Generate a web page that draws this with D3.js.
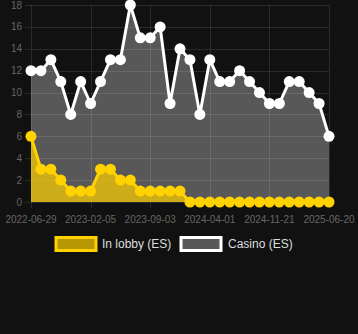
<!DOCTYPE html>
<html>
<head>
<meta charset="utf-8">
<script src="https://cdn.jsdelivr.net/npm/d3@7"></script>
<style>
  html, body { margin: 0; padding: 0; background: #111111; }
  svg { display: block; font-family: "Liberation Sans", Arial, sans-serif; }
</style>
</head>
<body>
<script>
// values, one point per sample
var casino = [12, 12, 13, 11, 8, 11, 9, 11, 13, 13, 18, 15, 15, 16, 9, 14, 13, 8, 13, 11, 11, 12, 11, 10, 9, 9, 11, 11, 10, 9, 6];
var lobby = [6, 3, 3, 2, 1, 1, 1, 3, 3, 2, 2, 1, 1, 1, 1, 1, 0, 0, 0, 0, 0, 0, 0, 0, 0, 0, 0, 0, 0, 0, 0];
var tickLabels = ["2022-06-29", "2023-02-05", "2023-09-03", "2024-04-01", "2024-11-21", "2025-06-20"];
var tickIndex = [0, 6, 12, 18, 24, 30];
var yTicks = [0, 2, 4, 6, 8, 10, 12, 14, 16, 18];
var legendNames = ["In lobby (ES)", "Casino (ES)"];

var W = 358, H = 334;
var plotLeft = 31, plotRight = 329, plotTop = 5, plotBottom = 202;

var svg = d3.select("body").append("svg")
    .attr("width", W)
    .attr("height", H);

var x = d3.scaleLinear().domain([0, casino.length - 1]).range([plotLeft, plotRight]);
var y = d3.scaleLinear().domain([0, 18]).range([plotBottom, plotTop]);

var grid = "rgba(255,255,255,0.1)";

// horizontal grid + y labels
svg.append("g").selectAll("line")
    .data(yTicks)
    .enter().append("line")
    .attr("x1", plotLeft - 6).attr("x2", plotRight)
    .attr("y1", function(d) { return Math.round(y(d)) + 0.5; })
    .attr("y2", function(d) { return Math.round(y(d)) + 0.5; })
    .style("stroke", grid);

svg.append("g").selectAll("text")
    .data(yTicks)
    .enter().append("text")
    .attr("x", 22)
    .attr("y", function(d) { return y(d); })
    .attr("dy", "0.35em")
    .attr("text-anchor", "end")
    .style("font-size", "10px")
    .style("fill", "#666")
    .text(function(d) { return d; });

// vertical grid + x labels
svg.append("g").selectAll("line")
    .data(tickIndex)
    .enter().append("line")
    .attr("x1", function(d) { return Math.round(x(d)) + 0.5; })
    .attr("x2", function(d) { return Math.round(x(d)) + 0.5; })
    .attr("y1", plotTop).attr("y2", plotBottom + 6)
    .style("stroke", grid);

svg.append("g").selectAll("text")
    .data(tickIndex)
    .enter().append("text")
    .attr("x", function(d) { return x(d); })
    .attr("y", 223)
    .attr("text-anchor", "middle")
    .style("font-size", "10px")
    .style("fill", "#666")
    .text(function(d, i) { return tickLabels[i]; });

var area = d3.area()
    .x(function(d, i) { return x(i); })
    .y0(y(0))
    .y1(function(d) { return y(d); });

var line = d3.line()
    .x(function(d, i) { return x(i); })
    .y(function(d) { return y(d); });

function drawSeries(data, fill, stroke) {
    svg.append("path")
        .attr("d", area(data))
        .style("fill", fill);
    svg.append("path")
        .attr("d", line(data))
        .style("fill", "none")
        .style("stroke", stroke)
        .style("stroke-width", 3)
        .style("stroke-linejoin", "round");
    svg.append("g").selectAll("circle")
        .data(data)
        .enter().append("circle")
        .attr("cx", function(d, i) { return x(i); })
        .attr("cy", function(d) { return y(d); })
        .attr("r", 5.5)
        .style("fill", stroke);
}

drawSeries(casino, "rgba(255,255,255,0.3)", "#ffffff");
drawSeries(lobby, "rgba(255,208,0,0.7)", "#ffd200");

// legend
var legend = [
    { name: legendNames[0], fill: "rgba(255,208,0,0.7)", stroke: "#ffd200", bx: 56, tx: 102 },
    { name: legendNames[1], fill: "rgba(255,255,255,0.3)", stroke: "#ffffff", bx: 181, tx: 228 }
];

var lg = svg.append("g").selectAll("g")
    .data(legend)
    .enter().append("g");

lg.append("rect")
    .attr("x", function(d) { return d.bx; })
    .attr("y", 237.5)
    .attr("width", 40)
    .attr("height", 13)
    .style("fill", function(d) { return d.fill; })
    .style("stroke", function(d) { return d.stroke; })
    .style("stroke-width", 3);

lg.append("text")
    .attr("x", function(d) { return d.tx; })
    .attr("y", 244)
    .attr("dy", "0.35em")
    .style("font-size", "12px")
    .style("fill", "#ddd")
    .text(function(d) { return d.name; });
</script>
</body>
</html>
